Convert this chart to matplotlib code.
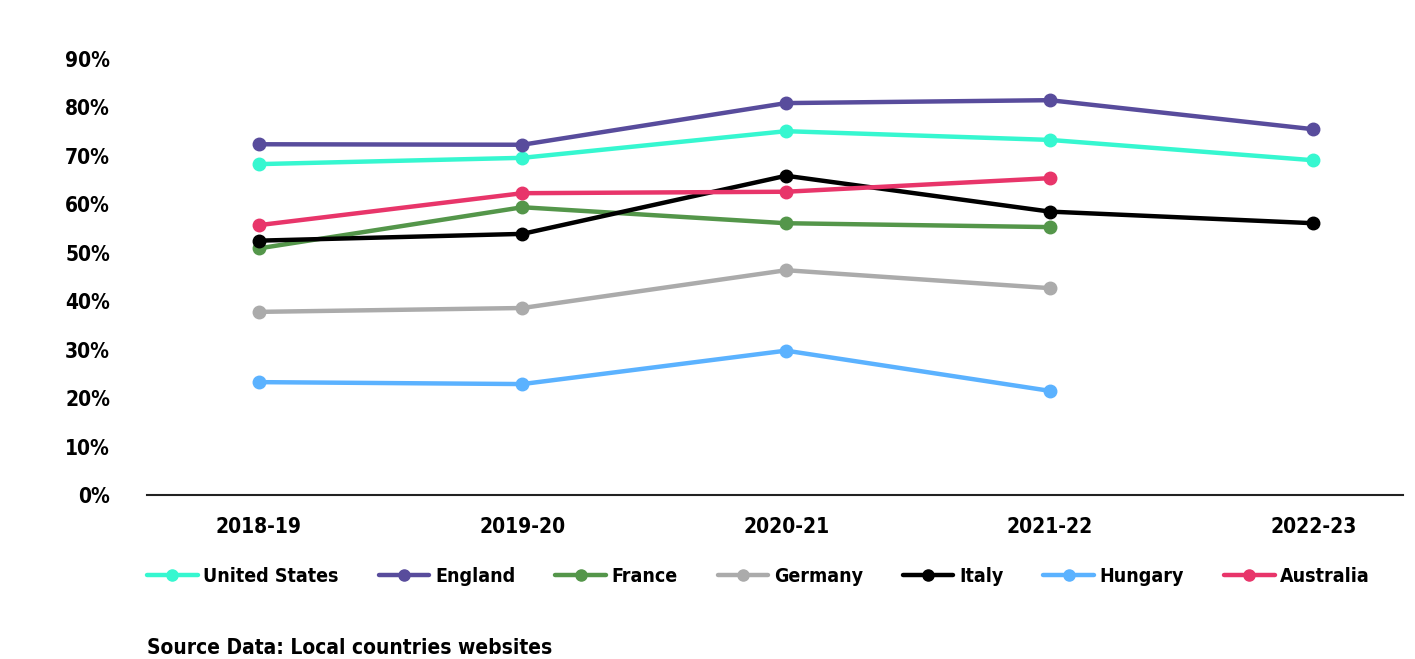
import matplotlib
matplotlib.use("Agg")
import matplotlib.pyplot as plt
import numpy as np

seasons = ["2018-19", "2019-20", "2020-21", "2021-22", "2022-23"]
united_states = [68.3, 69.6, 75.1, 73.3, 69.1]
england = [72.4, 72.3, 80.9, 81.5, 75.5]
france = [50.9, 59.4, 56.1, 55.3, None]
germany = [37.8, 38.6, 46.4, 42.7, None]
italy = [52.5, 53.9, 65.9, 58.5, 56.1]
hungary = [23.3, 22.9, 29.8, 21.5, None]
australia = [55.7, 62.3, 62.6, 65.4, None]
yticks = [0, 10, 20, 30, 40, 50, 60, 70, 80, 90]

series = [
    ("United States", united_states, "#36F7D0"),
    ("England", england, "#584C9C"),
    ("France", france, "#54964A"),
    ("Germany", germany, "#ABABAB"),
    ("Italy", italy, "#000000"),
    ("Hungary", hungary, "#5BB2FF"),
    ("Australia", australia, "#E8356A"),
]

plt.rcParams['font.family'] = ['DejaVu Sans']
plt.rcParams['font.stretch'] = 'condensed'
plt.rcParams['font.weight'] = 'bold'

fig = plt.figure(figsize=(14.15, 6.59), dpi=100)
ax = fig.add_axes([147/1415, 1-495/659, (1403-147)/1415, (495-59)/659])

x = np.arange(len(seasons))
for name, vals, color in series:
    xs = [xi for xi, v in zip(x, vals) if v is not None]
    ys = [v for v in vals if v is not None]
    ax.plot(xs, ys, color=color, lw=3.2, marker='o', markersize=9, label=name,
            solid_capstyle='round')

ax.set_ylim(0, 90)
ax.set_xlim(-111/262, 4 + 89/262)
ax.set_yticks(yticks)
ax.set_yticklabels([f"{t}%" for t in yticks], fontsize=15, fontweight='bold', stretch='condensed')
ax.set_xticks(x)
ax.set_xticklabels(seasons, fontsize=15, fontweight='bold', stretch='condensed')
for s in ['top', 'right', 'left']:
    ax.spines[s].set_visible(False)
ax.spines['bottom'].set_linewidth(1.5)
ax.spines['bottom'].set_color('#222222')
ax.tick_params(axis='both', length=0)
ax.tick_params(axis='y', pad=26.5)
ax.tick_params(axis='x', pad=16)

leg = fig.legend(loc='center left', bbox_to_anchor=(147/1415, 1-576/659), ncol=7,
                 frameon=False, handlelength=2.6, handletextpad=0.3, columnspacing=2.05,
                 borderaxespad=0, borderpad=0,
                 prop={'size': 14, 'weight': 'bold', 'stretch': 'condensed'})
for h in leg.legend_handles:
    h.set_markersize(8)

fig.text(147/1415, 1-648/659, "Source Data: Local countries websites", fontsize=15,
         fontweight='bold', stretch='condensed', va='center', ha='left')

fig.savefig("out.png", dpi=100)
